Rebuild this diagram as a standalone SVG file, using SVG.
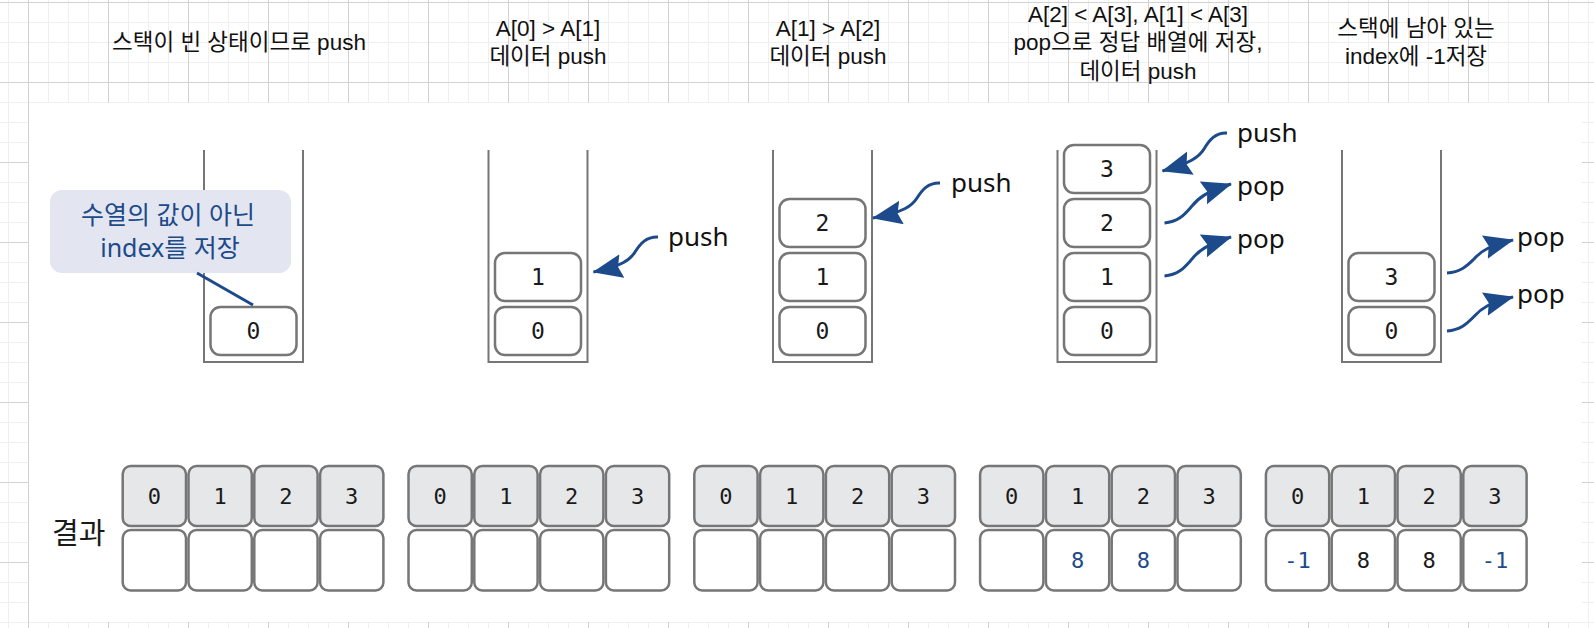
<svg xmlns="http://www.w3.org/2000/svg" width="1594" height="628" viewBox="0 0 1594 628">
<style>
.hd{font-family:"Liberation Sans","Noto Sans CJK KR",sans-serif;font-size:22.5px;fill:#111;text-anchor:middle}
.ct{fill:none;stroke:#767676;stroke-width:2}
.bx{fill:#fff;stroke:#767676;stroke-width:2.5}
.hc{fill:#e6e7e9;stroke:#767676;stroke-width:2.5}
.num{font-family:"DejaVu Sans Mono","Liberation Mono",monospace;font-size:23px;fill:#1a1a1a;text-anchor:middle}
.rn{font-family:"DejaVu Sans Mono","Liberation Mono",monospace;font-size:22px;fill:#1a1a1a;text-anchor:middle}
.blue{fill:#1c4a8a}
.lbl{font-family:"Noto Sans","Noto Sans CJK KR",sans-serif;font-size:26px;fill:#111}
.arr{fill:none;stroke:#1c4a8a;stroke-width:3;marker-end:url(#ah)}
.co{font-family:"Noto Sans","Noto Sans CJK KR",sans-serif;font-size:25px;fill:#1c4a8a;text-anchor:middle}
</style>
<defs>
<pattern id="grid" x="28" y="2" width="80" height="80" patternUnits="userSpaceOnUse">
<rect width="80" height="80" fill="#fff"/>
<rect x="20" width="1" height="80" fill="#efefef"/>
<rect x="40" width="1" height="80" fill="#efefef"/>
<rect x="60" width="1" height="80" fill="#efefef"/>
<rect y="20" width="80" height="1" fill="#efefef"/>
<rect y="40" width="80" height="1" fill="#efefef"/>
<rect y="60" width="80" height="1" fill="#efefef"/>
<rect x="0" width="1" height="80" fill="#d2d2d2"/>
<rect y="0" width="80" height="1" fill="#d2d2d2"/>
</pattern>
<marker id="ah" markerUnits="userSpaceOnUse" markerWidth="32" markerHeight="26" refX="29" refY="12" orient="auto">
<path d="M0,0 L30,12 L0,24 L4,12 z" fill="#1c4a8a"/>
</marker>
</defs>
<rect width="1594" height="628" fill="url(#grid)"/>
<rect x="29" y="103" width="1553" height="519" fill="#fff"/>

<g id="headings">
<text class="hd" x="239" y="50">스택이 빈 상태이므로 push</text>
<text class="hd" x="548" y="36">A[0] &gt; A[1]<tspan x="548" y="64">데이터 push</tspan></text>
<text class="hd" x="828" y="36">A[1] &gt; A[2]<tspan x="828" y="64">데이터 push</tspan></text>
<text class="hd" x="1138" y="21.5">A[2] &lt; A[3], A[1] &lt; A[3]<tspan x="1138" y="50">pop으로 정답 배열에 저장,</tspan><tspan x="1138" y="78.5">데이터 push</tspan></text>
<text class="hd" x="1416" y="36">스택에 남아 있는<tspan x="1416" y="64">index에 -1저장</tspan></text>
</g>

<g id="stack1">
<path class="ct" d="M204,150 V362 H303 V150"/>
<rect class="bx" x="210.5" y="307" width="86" height="48" rx="10"/>
<text class="num" x="253.5" y="339">0</text>
</g>
<g id="callout">
<rect x="50" y="190" width="241" height="83" rx="12" fill="#e3e6f0"/>
<text class="co" x="168" y="224">수열의 값이 아닌</text>
<text class="co" x="170" y="257">index를 저장</text>
</g>

<g id="stack2">
<path class="ct" d="M488.5,150 V362 H587.5 V150"/>
<rect class="bx" x="495" y="307" width="86" height="48" rx="10"/>
<text class="num" x="538" y="339">0</text>
<rect class="bx" x="495" y="253" width="86" height="48" rx="10"/>
<text class="num" x="538" y="285">1</text>
<text class="lbl" x="668" y="246">push</text>
</g>

<g id="stack3">
<path class="ct" d="M773,150 V362 H872 V150"/>
<rect class="bx" x="779.5" y="307" width="86" height="48" rx="10"/>
<text class="num" x="822.5" y="339">0</text>
<rect class="bx" x="779.5" y="253" width="86" height="48" rx="10"/>
<text class="num" x="822.5" y="285">1</text>
<rect class="bx" x="779.5" y="199" width="86" height="48" rx="10"/>
<text class="num" x="822.5" y="231">2</text>
<text class="lbl" x="951" y="192">push</text>
</g>

<g id="stack4">
<path class="ct" d="M1057.5,150 V362 H1156.5 V150"/>
<rect class="bx" x="1064" y="307" width="86" height="48" rx="10"/>
<text class="num" x="1107" y="339">0</text>
<rect class="bx" x="1064" y="253" width="86" height="48" rx="10"/>
<text class="num" x="1107" y="285">1</text>
<rect class="bx" x="1064" y="199" width="86" height="48" rx="10"/>
<text class="num" x="1107" y="231">2</text>
<rect class="bx" x="1064" y="145" width="86" height="48" rx="10"/>
<text class="num" x="1107" y="177">3</text>
<text class="lbl" x="1237" y="142">push</text>
<text class="lbl" x="1237" y="195">pop</text>
<text class="lbl" x="1237" y="248">pop</text>
</g>

<g id="stack5">
<path class="ct" d="M1342,150 V362 H1441 V150"/>
<rect class="bx" x="1348.5" y="307" width="86" height="48" rx="10"/>
<text class="num" x="1391.5" y="339">0</text>
<rect class="bx" x="1348.5" y="253" width="86" height="48" rx="10"/>
<text class="num" x="1391.5" y="285">3</text>
<text class="lbl" x="1517" y="246">pop</text>
<text class="lbl" x="1517" y="303">pop</text>
</g>

<g id="connectors">
<line x1="197" y1="273" x2="253" y2="305" stroke="#1c4a8a" stroke-width="3"/>
<path class="arr" d="M658,237 C646,236.5 640,244 635,252 C630,260 622,266 593.5,272"/>
<path class="arr" d="M940,183 C928,182.5 922,190 917,198 C912,206 904,212 873,218"/>
<path class="arr" d="M1227,133 C1215,132.5 1209,140.6 1204,149 C1199,157 1191,163 1162.5,171"/>
<path class="arr" d="M1164.5,223 C1178.5,222 1184.5,214.4 1191.5,206.6 C1198.5,197.6 1206.5,191.8 1231,184"/>
<path class="arr" d="M1164.5,276 C1178.5,275 1184.5,267.4 1191.5,259.6 C1198.5,250.6 1206.5,244.8 1231,237"/>
<path class="arr" d="M1447,273 C1461,272 1467,265.7 1474,259 C1481,251 1489,246 1513,240"/>
<path class="arr" d="M1447,331 C1461,330 1467,323.5 1474,316.5 C1481,308.5 1489,303 1513,297"/>
</g>

<g id="result-label">
<text x="52" y="544" font-family="'Noto Sans CJK KR',sans-serif" font-size="29" fill="#1a1a1a">결과</text>
</g>

<g id="result1">
<rect class="hc" x="122.7" y="466" width="63.3" height="60" rx="8"/><text class="rn" x="154.3" y="504">0</text>
<rect class="hc" x="188.5" y="466" width="63.3" height="60" rx="8"/><text class="rn" x="220.1" y="504">1</text>
<rect class="hc" x="254.3" y="466" width="63.3" height="60" rx="8"/><text class="rn" x="285.9" y="504">2</text>
<rect class="hc" x="320.1" y="466" width="63.3" height="60" rx="8"/><text class="rn" x="351.7" y="504">3</text>
<rect class="bx" x="122.7" y="530" width="63.3" height="60.5" rx="8"/>
<rect class="bx" x="188.5" y="530" width="63.3" height="60.5" rx="8"/>
<rect class="bx" x="254.3" y="530" width="63.3" height="60.5" rx="8"/>
<rect class="bx" x="320.1" y="530" width="63.3" height="60.5" rx="8"/>
</g>
<g id="result2">
<rect class="hc" x="408.5" y="466" width="63.3" height="60" rx="8"/><text class="rn" x="440.1" y="504">0</text>
<rect class="hc" x="474.3" y="466" width="63.3" height="60" rx="8"/><text class="rn" x="505.9" y="504">1</text>
<rect class="hc" x="540.1" y="466" width="63.3" height="60" rx="8"/><text class="rn" x="571.7" y="504">2</text>
<rect class="hc" x="605.9" y="466" width="63.3" height="60" rx="8"/><text class="rn" x="637.5" y="504">3</text>
<rect class="bx" x="408.5" y="530" width="63.3" height="60.5" rx="8"/>
<rect class="bx" x="474.3" y="530" width="63.3" height="60.5" rx="8"/>
<rect class="bx" x="540.1" y="530" width="63.3" height="60.5" rx="8"/>
<rect class="bx" x="605.9" y="530" width="63.3" height="60.5" rx="8"/>
</g>
<g id="result3">
<rect class="hc" x="694.3" y="466" width="63.3" height="60" rx="8"/><text class="rn" x="725.9" y="504">0</text>
<rect class="hc" x="760.1" y="466" width="63.3" height="60" rx="8"/><text class="rn" x="791.7" y="504">1</text>
<rect class="hc" x="825.9" y="466" width="63.3" height="60" rx="8"/><text class="rn" x="857.5" y="504">2</text>
<rect class="hc" x="891.7" y="466" width="63.3" height="60" rx="8"/><text class="rn" x="923.3" y="504">3</text>
<rect class="bx" x="694.3" y="530" width="63.3" height="60.5" rx="8"/>
<rect class="bx" x="760.1" y="530" width="63.3" height="60.5" rx="8"/>
<rect class="bx" x="825.9" y="530" width="63.3" height="60.5" rx="8"/>
<rect class="bx" x="891.7" y="530" width="63.3" height="60.5" rx="8"/>
</g>
<g id="result4">
<rect class="hc" x="980.1" y="466" width="63.3" height="60" rx="8"/><text class="rn" x="1011.7" y="504">0</text>
<rect class="hc" x="1045.9" y="466" width="63.3" height="60" rx="8"/><text class="rn" x="1077.5" y="504">1</text>
<rect class="hc" x="1111.7" y="466" width="63.3" height="60" rx="8"/><text class="rn" x="1143.3" y="504">2</text>
<rect class="hc" x="1177.5" y="466" width="63.3" height="60" rx="8"/><text class="rn" x="1209.1" y="504">3</text>
<rect class="bx" x="980.1" y="530" width="63.3" height="60.5" rx="8"/>
<rect class="bx" x="1045.9" y="530" width="63.3" height="60.5" rx="8"/><text class="rn blue" x="1077.5" y="568">8</text>
<rect class="bx" x="1111.7" y="530" width="63.3" height="60.5" rx="8"/><text class="rn blue" x="1143.3" y="568">8</text>
<rect class="bx" x="1177.5" y="530" width="63.3" height="60.5" rx="8"/>
</g>
<g id="result5">
<rect class="hc" x="1265.9" y="466" width="63.3" height="60" rx="8"/><text class="rn" x="1297.5" y="504">0</text>
<rect class="hc" x="1331.7" y="466" width="63.3" height="60" rx="8"/><text class="rn" x="1363.3" y="504">1</text>
<rect class="hc" x="1397.5" y="466" width="63.3" height="60" rx="8"/><text class="rn" x="1429.1" y="504">2</text>
<rect class="hc" x="1463.3" y="466" width="63.3" height="60" rx="8"/><text class="rn" x="1494.9" y="504">3</text>
<rect class="bx" x="1265.9" y="530" width="63.3" height="60.5" rx="8"/><text class="rn blue" x="1297.5" y="568">-1</text>
<rect class="bx" x="1331.7" y="530" width="63.3" height="60.5" rx="8"/><text class="rn" x="1363.3" y="568">8</text>
<rect class="bx" x="1397.5" y="530" width="63.3" height="60.5" rx="8"/><text class="rn" x="1429.1" y="568">8</text>
<rect class="bx" x="1463.3" y="530" width="63.3" height="60.5" rx="8"/><text class="rn blue" x="1494.9" y="568">-1</text>
</g>
</svg>
